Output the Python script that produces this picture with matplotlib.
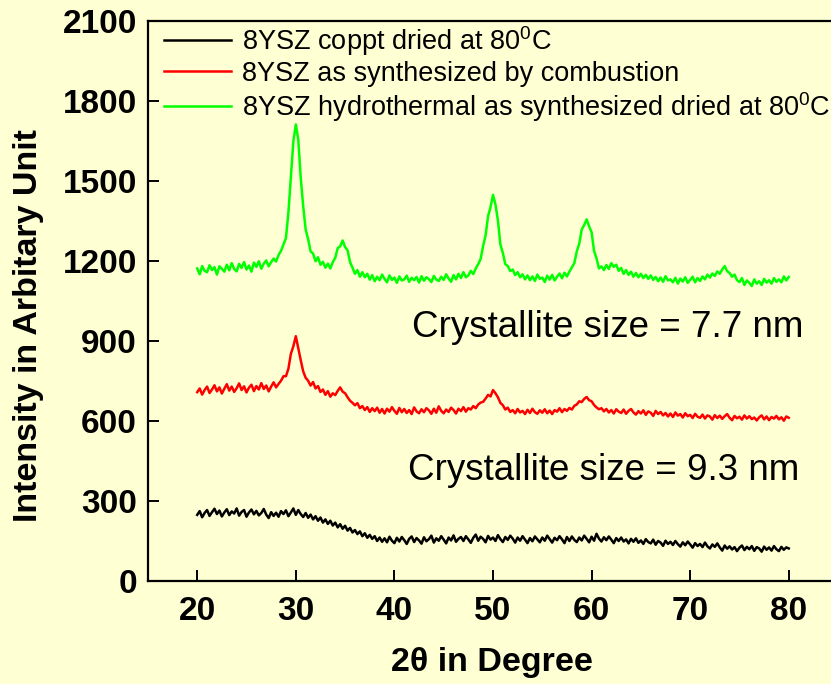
import numpy as np
import matplotlib
matplotlib.use("Agg")
import matplotlib.pyplot as plt

plt.rcParams['font.family'] = ['Liberation Sans', 'DejaVu Sans']
plt.rcParams['mathtext.fontset'] = 'custom'
plt.rcParams['mathtext.rm'] = 'Liberation Sans'

# XRD scans, 20-80 deg in 0.25 deg steps
two_theta = np.arange(20, 80.25, 0.25)

coppt = [
    248, 262, 239, 255, 266, 244, 258, 271, 251, 264, 242, 257,
    269, 247, 261, 253, 272, 245, 259, 266, 241, 257, 268, 250,
    263, 246, 255, 270, 249, 236, 258, 244, 256, 241, 262, 251,
    265, 243, 257, 272, 248, 266, 251, 240, 255, 237, 249, 231,
    243, 226, 238, 219, 231, 214, 226, 208, 219, 201, 213, 196,
    207, 189, 199, 182, 191, 176, 186, 168, 179, 162, 173, 158,
    168, 150, 163, 147, 160, 145, 166, 151, 142, 162, 148, 165,
    153, 139, 158, 167, 146, 161, 152, 140, 164, 149, 157, 170,
    144, 160, 151, 168, 155, 141, 163, 152, 171, 147, 158, 165,
    150, 168, 156, 143, 162, 174, 151, 166, 158, 145, 169, 155,
    163, 150, 172, 157, 146, 165, 154, 170, 159, 144, 163, 151,
    168, 155, 142, 161, 149, 167, 156, 145, 163, 151, 170, 157,
    144, 162, 153, 168, 156, 142, 165, 150, 167, 154, 146, 163,
    152, 170, 158, 145, 166, 151, 177, 159, 148, 164, 153, 167,
    155, 142, 161, 150, 163, 148, 156, 141, 158, 147, 160, 143,
    152, 139, 157, 146, 141, 155, 136, 150, 144, 132, 151, 139,
    147, 135, 150, 138, 129, 145, 134, 148, 137, 125, 142, 131,
    139, 127, 144, 130, 122, 137, 128, 141, 126, 114, 133, 121,
    130, 118, 127, 112, 125, 133, 116, 128, 119, 131, 113, 127,
    122, 110, 129, 117, 126, 114, 131, 119, 112, 128, 117, 126,
    122,
]

combustion = [
    708, 722, 699, 716, 729, 705, 718, 734, 711, 726, 703, 721,
    738, 714, 729, 709, 723, 741, 716, 730, 707, 725, 736, 712,
    731, 718, 742, 720, 733, 711, 729, 745, 726, 739, 751, 768,
    768, 796, 852, 880, 918, 872, 828, 786, 762, 751, 733, 746,
    722, 731, 709, 718, 698, 712, 691, 704, 697, 713, 726, 710,
    704, 689, 676, 668, 659, 667, 648, 656, 641, 652, 634, 648,
    637, 650, 631, 645, 628, 646, 635, 652, 638, 627, 649, 633,
    645, 630, 641, 626, 651, 636, 629, 644, 633, 648, 640, 627,
    646, 631, 655, 638, 629, 643, 634, 650, 641, 628, 646, 637,
    652, 635, 648, 643, 656, 648, 662, 669, 672, 684, 698, 692,
    716, 704, 689, 668, 659, 643, 650, 634, 641, 629, 645, 632,
    638, 626, 642, 630, 646, 633, 627, 640, 631, 644, 629, 639,
    626, 641, 635, 648, 633, 645, 638, 649, 643, 657, 662, 674,
    671, 683, 690, 678, 674, 660, 651, 644, 648, 636, 645, 632,
    641, 628, 644, 635, 630, 643, 627, 638, 645, 632, 624, 637,
    628, 640, 623, 636, 631, 619, 638, 626, 634, 621, 630, 617,
    628, 615, 632, 620, 626, 613, 629, 618, 623, 611, 627, 616,
    612, 624, 609, 621, 617, 605, 622, 611, 620, 608, 618, 626,
    612, 603, 619, 610, 616, 605, 621, 609, 618, 607, 613, 602,
    614, 621, 606, 617, 603, 615, 609, 619, 606, 614, 601, 617,
    612,
]

hydrothermal = [
    1172, 1150, 1181, 1163, 1158, 1184, 1166, 1177, 1149, 1180, 1171, 1160,
    1186, 1165, 1192, 1170, 1161, 1189, 1174, 1196, 1168, 1183, 1160, 1194,
    1178, 1199, 1171, 1190, 1202, 1180, 1196, 1209, 1198, 1222, 1238, 1262,
    1286, 1382, 1515, 1648, 1712, 1655, 1512, 1405, 1318, 1282, 1236, 1228,
    1199, 1214, 1186, 1197, 1175, 1190, 1172, 1196, 1212, 1248, 1255, 1277,
    1252, 1240, 1196, 1175, 1152, 1166, 1141, 1158, 1139, 1152, 1130, 1147,
    1124, 1141, 1128, 1149, 1133, 1120, 1146, 1129, 1138, 1118, 1142, 1127,
    1131, 1145, 1122, 1137, 1128, 1140, 1119, 1143, 1126, 1139, 1132, 1121,
    1144, 1130, 1125, 1141, 1129, 1150, 1134, 1122, 1147, 1131, 1152, 1136,
    1158, 1139, 1146, 1163, 1151, 1172, 1188, 1208, 1257, 1296, 1368, 1402,
    1448, 1412, 1352, 1262, 1230, 1188, 1181, 1162, 1168, 1147, 1158, 1139,
    1150, 1131, 1146, 1128, 1142, 1125, 1149, 1133, 1138, 1121, 1145, 1130,
    1148, 1127, 1141, 1153, 1135, 1156, 1142, 1160, 1176, 1192, 1236, 1265,
    1318, 1335, 1356, 1330, 1308, 1238, 1210, 1172, 1180, 1166, 1185, 1170,
    1192, 1178, 1186, 1163, 1174, 1152, 1166, 1148, 1160, 1141, 1155, 1139,
    1152, 1136, 1148, 1133, 1146, 1129, 1140, 1124, 1138, 1122, 1143, 1127,
    1131, 1120, 1137, 1115, 1134, 1123, 1139, 1118, 1129, 1141, 1120, 1136,
    1125, 1142, 1131, 1149, 1138, 1153, 1144, 1161, 1152, 1168, 1181, 1162,
    1155, 1141, 1149, 1128, 1121, 1136, 1110, 1127, 1118, 1106, 1131, 1115,
    1124, 1110, 1133, 1119, 1128, 1115, 1136, 1122, 1131, 1120, 1142, 1127,
    1140,
]

labels = [
    r'8YSZ coppt dried at 80$^\mathregular{0}$C',
    '8YSZ as synthesized by combustion',
    r'8YSZ hydrothermal as synthesized dried at 80$^\mathregular{0}$C',
]
colors = ['black', 'red', '#00FF00']
sizes = ['Crystallite size = 7.7 nm', 'Crystallite size = 9.3 nm']

bg = '#FFFFD4'
fig = plt.figure(figsize=(8.31, 6.84), dpi=100, facecolor=bg)
ax = fig.add_axes([0.178, 0.1506, 0.8305, 0.8187], facecolor=bg)

for y, c, lab in zip([coppt, combustion, hydrothermal], colors, labels):
    ax.plot(two_theta, y, color=c, lw=1.8, label=lab)

ax.set_xlim(15, 85)
ax.set_ylim(0, 2100)
ax.set_xticks(range(20, 81, 10))
ax.set_yticks(range(0, 2101, 300))

for s in ax.spines.values():
    s.set_linewidth(1.6)
ax.tick_params(direction='in', length=8, width=1.4, labelsize=24, pad=8)
ax.tick_params(axis='x', pad=11)
for t in ax.get_xticklabels() + ax.get_yticklabels():
    t.set_fontweight('bold')

ax.set_xlabel('2θ in Degree', fontsize=24.5, fontweight='bold')
ax.set_ylabel('Intensity in Arbitary Unit', fontsize=24.5, fontweight='bold')
ax.xaxis.set_label_coords(0.499, -0.118)
ax.yaxis.set_label_coords(-0.151, 0.457)

ax.text(41.8, 949, sizes[0], fontsize=26.5, ha='left', va='center')
ax.text(41.4, 416, sizes[1], fontsize=26.5, ha='left', va='center')

ax.legend(loc='upper left', bbox_to_anchor=(0.023, 0.995), frameon=False,
          fontsize=19.5, handlelength=2.5, handletextpad=0.4,
          labelspacing=0.12, borderpad=0, borderaxespad=0)

fig.savefig('out.png', dpi=100, facecolor=bg)
